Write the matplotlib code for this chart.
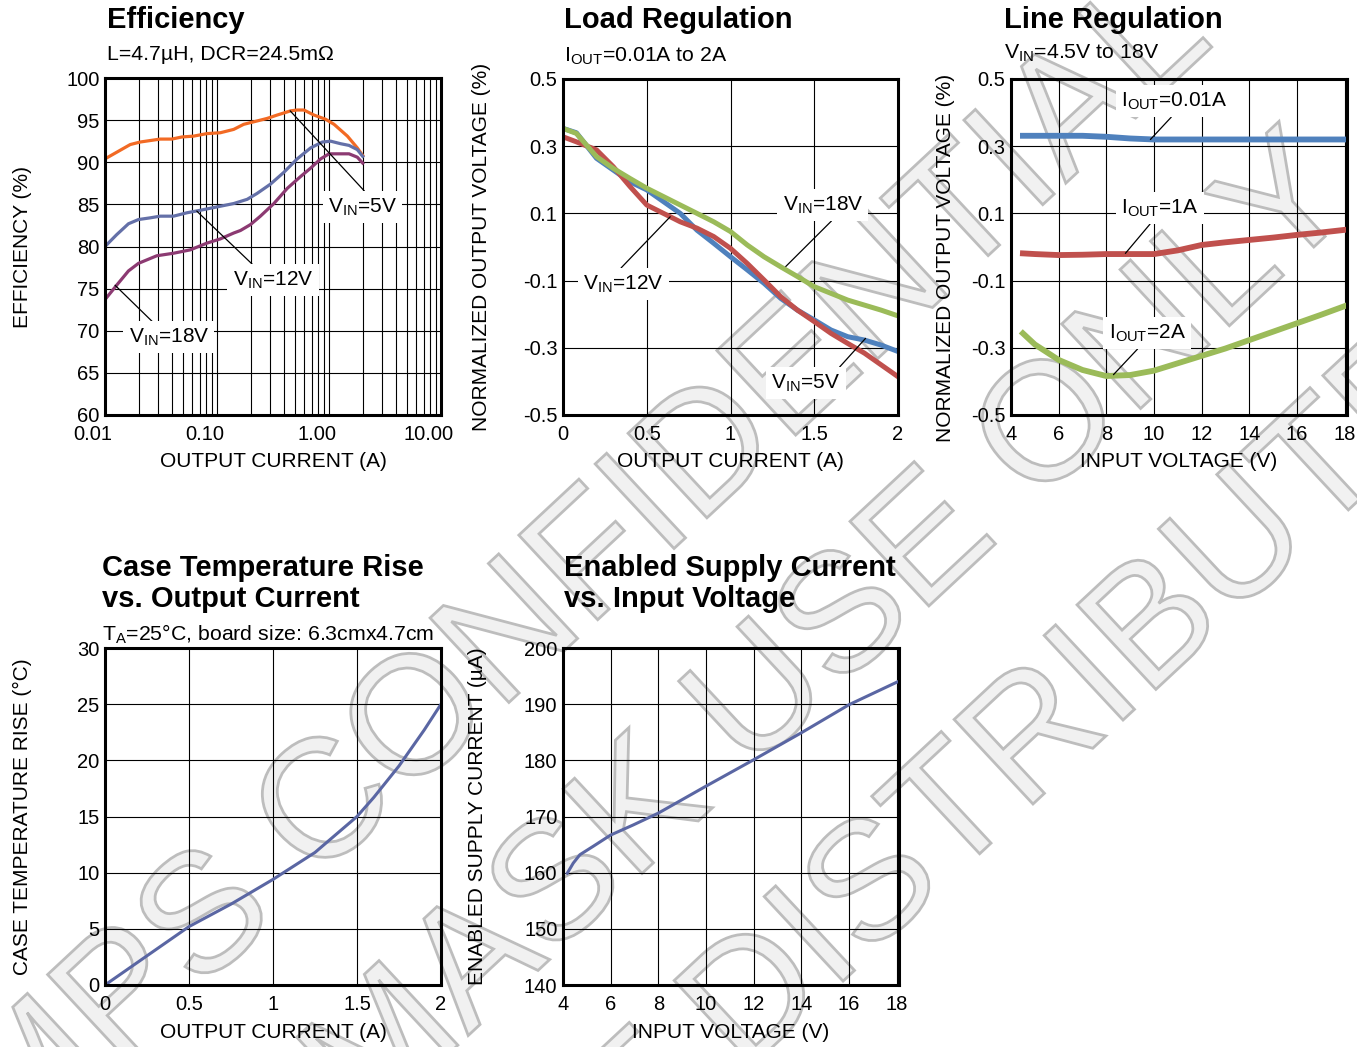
"""Typical performance characteristics page: efficiency, regulation, thermal and supply current."""

import matplotlib

matplotlib.use("Agg")
import matplotlib.patheffects as pe
import matplotlib.pyplot as plt
import matplotlib.transforms as mtransforms
from matplotlib.ticker import LogLocator, NullFormatter

plt.rcParams["font.family"] = ["Liberation Sans", "DejaVu Sans"]
plt.rcParams["mathtext.fontset"] = "custom"
plt.rcParams["mathtext.rm"] = "Liberation Sans"

W, H = 1357, 1047

# ---- Efficiency (log x) ----
eff_5v_i = [0.01, 0.0168, 0.0206, 0.0311, 0.0395, 0.0486, 0.0618, 0.0813, 0.107, 0.141, 0.173,
            0.228, 0.28, 0.344, 0.454, 0.52, 0.597, 0.734, 0.934, 1.11, 1.46, 1.79, 2.0]
eff_5v = [90.4, 92.1, 92.4, 92.75, 92.75, 93.0, 93.1, 93.4, 93.5, 93.9, 94.5,
          94.9, 95.2, 95.6, 96.1, 96.2, 96.2, 95.6, 95.1, 94.5, 93.1, 91.7, 90.8]
eff_12v_i = [0.01, 0.0127, 0.0162, 0.0199, 0.0253, 0.0311, 0.0409, 0.0538, 0.0709, 0.1, 0.141,
             0.186, 0.228, 0.30, 0.395, 0.52, 0.685, 0.871, 1.035, 1.27, 1.51, 1.79, 2.0]
eff_12v = [80.0, 81.4, 82.7, 83.2, 83.4, 83.6, 83.6, 84.0, 84.3, 84.7, 85.1,
           85.6, 86.3, 87.4, 88.8, 90.4, 91.7, 92.4, 92.5, 92.2, 92.0, 91.5, 90.7]
eff_18v_i = [0.01, 0.0127, 0.0162, 0.0199, 0.029, 0.0409, 0.0577, 0.0813, 0.107, 0.141, 0.162,
             0.199, 0.244, 0.322, 0.424, 0.557, 0.685, 0.842, 1.0, 1.19, 1.51, 1.79, 2.0]
eff_18v = [73.7, 75.4, 77.1, 78.0, 78.9, 79.2, 79.6, 80.4, 80.9, 81.6, 81.9,
           82.6, 83.6, 85.1, 86.9, 88.3, 89.3, 90.4, 91.0, 91.0, 91.0, 90.6, 89.9]
eff_xticks = [0.01, 0.1, 1, 10]
eff_xlabels = ["0.01", "0.10", "1.00", "10.00"]

# ---- Load regulation ----
load_i = [0, 0.08, 0.2, 0.3, 0.4, 0.5, 0.6, 0.7, 0.8, 0.9, 1.0,
          1.1, 1.2, 1.3, 1.4, 1.5, 1.6, 1.7, 1.8, 1.9, 2.0]
load_5v = [0.353, 0.34, 0.264, 0.229, 0.194, 0.17, 0.135, 0.10, 0.05, 0.011, -0.029,
           -0.068, -0.108, -0.153, -0.188, -0.217, -0.247, -0.267, -0.277, -0.292, -0.311]
load_12v = [0.328, 0.313, 0.289, 0.239, 0.18, 0.125, 0.10, 0.075, 0.056, 0.031, -0.004,
            -0.049, -0.098, -0.148, -0.188, -0.222, -0.257, -0.287, -0.316, -0.351, -0.386]
load_18v = [0.353, 0.338, 0.269, 0.234, 0.204, 0.175, 0.15, 0.125, 0.10, 0.075, 0.046,
            0.006, -0.029, -0.059, -0.088, -0.118, -0.138, -0.158, -0.173, -0.188, -0.205]

# ---- Line regulation ----
line_vin = [4.5, 5, 6, 7, 8, 9, 10, 11, 12, 13, 14, 15, 16, 17, 18]
line_001a = [0.331, 0.331, 0.331, 0.331, 0.328, 0.323, 0.320, 0.320, 0.320, 0.320, 0.320, 0.320, 0.320, 0.320, 0.320]
line_1a = [-0.019, -0.021, -0.024, -0.023, -0.021, -0.021, -0.021, -0.010, 0.006, 0.014, 0.021, 0.028, 0.036, 0.043, 0.051]
line_2a = [-0.257, -0.29, -0.336, -0.366, -0.384, -0.381, -0.368, -0.346, -0.324, -0.302, -0.277, -0.252, -0.227, -0.202, -0.176]

reg_yticks = [-0.5, -0.3, -0.1, 0.1, 0.3, 0.5]
reg_ylabels = ["-0.5", "-0.3", "-0.1", "0.1", "0.3", "0.5"]
vin_ticks = [4, 6, 8, 10, 12, 14, 16, 18]
amp_ticks = [0, 0.5, 1, 1.5, 2]
amp_labels = ["0", "0.5", "1", "1.5", "2"]

# ---- Case temperature rise ----
case_i = [0, 0.25, 0.5, 0.75, 1.0, 1.25, 1.5, 1.6, 1.75, 1.9, 2.0]
case_rise = [0, 2.6, 5.2, 7.2, 9.4, 11.8, 15.0, 16.7, 19.5, 22.7, 25.0]

# ---- Enabled supply current ----
en_vin = [4.18, 4.43, 4.71, 5.27, 6.0, 6.95, 8.0, 10.0, 12.0, 14.0, 16.0, 18.1]
en_iq = [159.9, 161.7, 163.2, 164.7, 166.7, 168.5, 170.6, 175.4, 180.1, 184.9, 189.9, 194.1]

ORANGE, SLATE, PLUM = "#F26A24", "#6470A8", "#8C3A72"
BLUE, RED, GREEN = "#4F81BD", "#C0504D", "#9BBB59"
CURVE = "#5A66A3"

fig = plt.figure(figsize=(W / 100, H / 100), dpi=100)


def place_axes(left, top, right, bottom):
    return fig.add_axes([left / W, 1 - bottom / H, (right - left) / W, (bottom - top) / H])


def style_axes(ax, xlabel, ylabel, xlab_y, ylab_x, ylab_y=0.5):
    ax.set_facecolor("none")
    for sp in ax.spines.values():
        sp.set_linewidth(2.2)
        sp.set_zorder(5)
    ax.grid(True, which="both", color="black", linewidth=0.8)
    ax.set_axisbelow(True)
    ax.tick_params(which="both", length=0, labelsize=14.5)
    ax.tick_params(axis="x", pad=7)
    ax.tick_params(axis="y", pad=4)
    ax.set_xlabel(xlabel, fontsize=15, va="center")
    ax.set_ylabel(ylabel, fontsize=15, va="center")
    ax.xaxis.set_label_coords(0.5, xlab_y)
    ax.yaxis.set_label_coords(ylab_x, ylab_y)


def heading(x, y, lines, sub, sub_y):
    for k, s in enumerate(lines):
        fig.text(x / W, 1 - (y + 31 * k) / H, s, fontsize=21, fontweight="bold",
                 ha="left", va="baseline")
    fig.text(x / W, 1 - sub_y / H, sub, fontsize=15.3, ha="left", va="baseline")


def label(ax, text, tip, pos, relpos):
    ax.annotate(text, xy=tip, xycoords="data", xytext=pos, textcoords="axes fraction",
                ha="center", va="center", fontsize=15, zorder=10,
                bbox=dict(boxstyle="square,pad=0.25", facecolor="white", edgecolor="none"),
                arrowprops=dict(arrowstyle="-", color="black", lw=0.9, relpos=relpos,
                                shrinkA=0, shrinkB=0))


# watermark, under everything
wm_style = [pe.PathPatchEffect(edgecolor="#BDBDBD", facecolor="#F1F1F1", linewidth=2.0)]
for text, (px, py) in [("MPS CONFIDENTIAL", (14, 1164)),
                       ("FOR MASK USE ONLY", (72, 1405)),
                       ("DO NOT DISTRIBUTE", (233, 1550))]:
    fig.text(px / W, 1 - py / H, text, fontsize=121, rotation=43, rotation_mode="anchor",
             ha="left", va="baseline", zorder=-5, path_effects=wm_style)

# Efficiency
ax = place_axes(105, 78, 441, 415)
ax.plot(eff_5v_i, eff_5v, color=ORANGE, lw=2.3)
ax.plot(eff_12v_i, eff_12v, color=SLATE, lw=2.3)
ax.plot(eff_18v_i, eff_18v, color=PLUM, lw=2.3)
ax.set_xscale("log")
ax.set_xlim(0.01, 10)
ax.set_ylim(60, 100)
ax.xaxis.set_minor_locator(LogLocator(base=10, subs=range(2, 10)))
ax.xaxis.set_minor_formatter(NullFormatter())
ax.set_xticks(eff_xticks, eff_xlabels)
ax.set_yticks(range(60, 101, 5))
style_axes(ax, "OUTPUT CURRENT (A)", "EFFICIENCY (%)", -0.139, -0.246)
shift = mtransforms.ScaledTranslation(-12 / 100, 0, fig.dpi_scale_trans)
for t in ax.get_xticklabels():
    t.set_transform(t.get_transform() + shift)
label(ax, r"V$_\mathregular{IN}$=5V", (0.45, 96.1), (0.766, 0.617), (0.6, 1.0))
label(ax, r"V$_\mathregular{IN}$=12V", (0.066, 84.2), (0.50, 0.40), (0.31, 1.0))
label(ax, r"V$_\mathregular{IN}$=18V", (0.0123, 75.4), (0.19, 0.23), (0.36, 1.0))
heading(107, 28, ["Efficiency"], "L=4.7µH, DCR=24.5mΩ", 60)

# Load regulation
ax = place_axes(563, 79, 898, 415)
ax.plot(load_i, load_5v, color=BLUE, lw=3.6)
ax.plot(load_i, load_12v, color=RED, lw=3.6)
ax.plot(load_i, load_18v, color=GREEN, lw=3.6)
ax.set_xlim(0, 2)
ax.set_ylim(-0.5, 0.5)
ax.set_xticks(amp_ticks, amp_labels)
ax.set_yticks(reg_yticks, reg_ylabels)
style_axes(ax, "OUTPUT CURRENT (A)", "NORMALIZED OUTPUT VOLTAGE (%)", -0.139, -0.242)
label(ax, r"V$_\mathregular{IN}$=18V", (1.33, -0.058), (0.776, 0.625), (0.67, 0.0))
label(ax, r"V$_\mathregular{IN}$=12V", (0.64, 0.09), (0.18, 0.39), (0.41, 1.0))
label(ax, r"V$_\mathregular{IN}$=5V", (1.806, -0.272), (0.725, 0.095), (0.92, 1.0))
heading(564, 28, ["Load Regulation"], r"I$_\mathregular{OUT}$=0.01A to 2A", 61)

# Line regulation
ax = place_axes(1011, 79, 1347, 415)
ax.plot(line_vin, line_001a, color=BLUE, lw=4.2)
ax.plot(line_vin, line_1a, color=RED, lw=4.2)
ax.plot(line_vin, line_2a, color=GREEN, lw=4.2)
ax.set_xlim(4, 18.1)
ax.set_ylim(-0.5, 0.5)
ax.set_xticks(vin_ticks)
ax.set_yticks(reg_yticks, reg_ylabels)
style_axes(ax, "INPUT VOLTAGE (V)", "NORMALIZED OUTPUT VOLTAGE (%)", -0.139, -0.196, 0.467)
label(ax, r"I$_\mathregular{OUT}$=0.01A", (9.85, 0.32), (0.485, 0.934), (0.52, 0.0))
label(ax, r"I$_\mathregular{OUT}$=1A", (8.8, -0.019), (0.443, 0.616), (0.43, 0.0))
label(ax, r"I$_\mathregular{OUT}$=2A", (8.3, -0.38), (0.405, 0.244), (0.44, 0.0))
heading(1004, 28, ["Line Regulation"], r"V$_\mathregular{IN}$=4.5V to 18V", 58)

# Case temperature rise
ax = place_axes(105, 648, 441, 985)
ax.plot(case_i, case_rise, color=CURVE, lw=2.2)
ax.set_xlim(0, 2)
ax.set_ylim(0, 30)
ax.set_xticks(amp_ticks, amp_labels)
ax.set_yticks(range(0, 31, 5))
style_axes(ax, "OUTPUT CURRENT (A)", "CASE TEMPERATURE RISE (°C)", -0.142, -0.246)
heading(102, 576, ["Case Temperature Rise", "vs. Output Current"],
        r"T$_\mathregular{A}$=25°C, board size: 6.3cmx4.7cm", 640)

# Enabled supply current
ax = place_axes(563, 648, 899, 985)
ax.plot(en_vin, en_iq, color=CURVE, lw=2.2)
ax.set_xlim(4, 18.1)
ax.set_ylim(140, 200)
ax.set_xticks(vin_ticks)
ax.set_yticks(range(140, 201, 10))
style_axes(ax, "INPUT VOLTAGE (V)", "ENABLED SUPPLY CURRENT (µA)", -0.142, -0.253)
heading(564, 576, ["Enabled Supply Current", "vs. Input Voltage"], "", 640)

fig.savefig("out.png", dpi=100)
